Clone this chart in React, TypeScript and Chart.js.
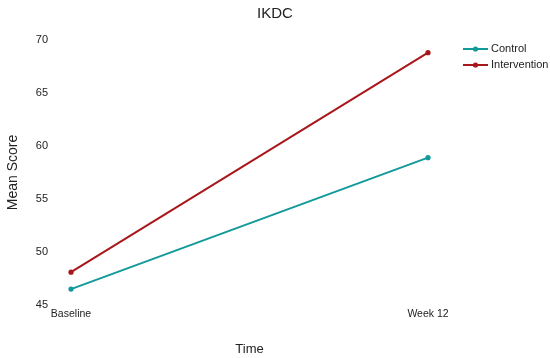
import React, { useEffect, useRef } from "react";
import { Chart, registerables } from "chart.js";

Chart.register(...registerables);

const categories = ["Baseline", "Week 12"];
const controlValues = [46.5, 58.9];
const interventionValues = [48.1, 68.8];
const yTicks = [45, 50, 55, 60, 65, 70];
const seriesNames = ["Control", "Intervention"];
const seriesColors = ["#12999a", "#a8171b"];

const FONT = "'Liberation Sans', Arial, Helvetica, sans-serif";

const legendPlugin = {
  id: "customLegend",
  afterDraw(chart: any) {
    const ctx = chart.ctx;
    ctx.save();
    const x0 = 463;
    const x1 = 488;
    seriesNames.forEach((name, i) => {
      const y = 49 + i * 16;
      ctx.strokeStyle = seriesColors[i];
      ctx.lineWidth = 2;
      ctx.beginPath();
      ctx.moveTo(x0, y);
      ctx.lineTo(x1, y);
      ctx.stroke();
      ctx.fillStyle = seriesColors[i];
      ctx.beginPath();
      ctx.arc((x0 + x1) / 2, y, 2.6, 0, Math.PI * 2);
      ctx.fill();
      ctx.fillStyle = "#222";
      ctx.font = `11px ${FONT}`;
      ctx.textAlign = "left";
      ctx.textBaseline = "middle";
      ctx.fillText(name, 491, y);
    });
    ctx.restore();
  },
};

export default function App() {
  const ref = useRef<HTMLCanvasElement>(null);
  useEffect(() => {
    if (!ref.current) return;
    const chart = new Chart(ref.current, {
      type: "line",
      data: {
        labels: categories,
        datasets: [
          {
            label: seriesNames[0],
            data: controlValues,
            borderColor: seriesColors[0],
            backgroundColor: seriesColors[0],
            borderWidth: 2,
            pointRadius: 2.6,
            pointBorderWidth: 0,
          },
          {
            label: seriesNames[1],
            data: interventionValues,
            borderColor: seriesColors[1],
            backgroundColor: seriesColors[1],
            borderWidth: 2,
            pointRadius: 2.6,
            pointBorderWidth: 0,
          },
        ],
      },
      options: {
        responsive: false,
        animation: false,
        layout: { padding: 0 },
        plugins: {
          legend: { display: false },
          tooltip: { enabled: false },
          title: {
            display: true,
            text: "IKDC",
            color: "#222",
            font: { family: FONT, size: 15, weight: "normal" },
            padding: { top: 5, bottom: 17 },
          },
        },
        scales: {
          x: {
            type: "category",
            offset: false,
            grid: { display: false, drawTicks: false },
            border: { display: false },
            ticks: {
              color: "#222",
              font: { family: FONT, size: 10.5 },
              padding: 3,
              maxRotation: 0,
            },
            title: {
              display: true,
              text: "Time",
              color: "#222",
              font: { family: FONT, size: 13 },
              padding: { top: 0, bottom: 1 },
            },
            afterFit(scale: any) {
              scale.height = 53;
            },
          },
          y: {
            min: 45,
            max: 70,
            grid: { display: false, drawTicks: false },
            border: { display: false },
            afterBuildTicks(scale: any) {
              scale.ticks = yTicks.map((v) => ({ value: v }));
            },
            ticks: {
              color: "#222",
              font: { family: FONT, size: 11 },
              padding: 23,
            },
            title: {
              display: true,
              text: "Mean Score",
              color: "#222",
              font: { family: FONT, size: 14 },
              padding: { top: 5, bottom: 0 },
            },
            afterFit(scale: any) {
              scale.width = 71;
            },
          },
          legendSpace: {
            type: "linear",
            position: "right",
            display: true,
            min: 45,
            max: 70,
            grid: { display: false, drawTicks: false },
            border: { display: false },
            ticks: { display: false },
            afterFit(scale: any) {
              scale.width = 122;
            },
          },
        },
      },
      plugins: [legendPlugin],
    } as any);
    return () => chart.destroy();
  }, []);
  return (
    <canvas
      ref={ref}
      width={550}
      height={358}
      style={{ position: "absolute", left: 0, top: 0, display: "block", background: "#fff" }}
    />
  );
}
